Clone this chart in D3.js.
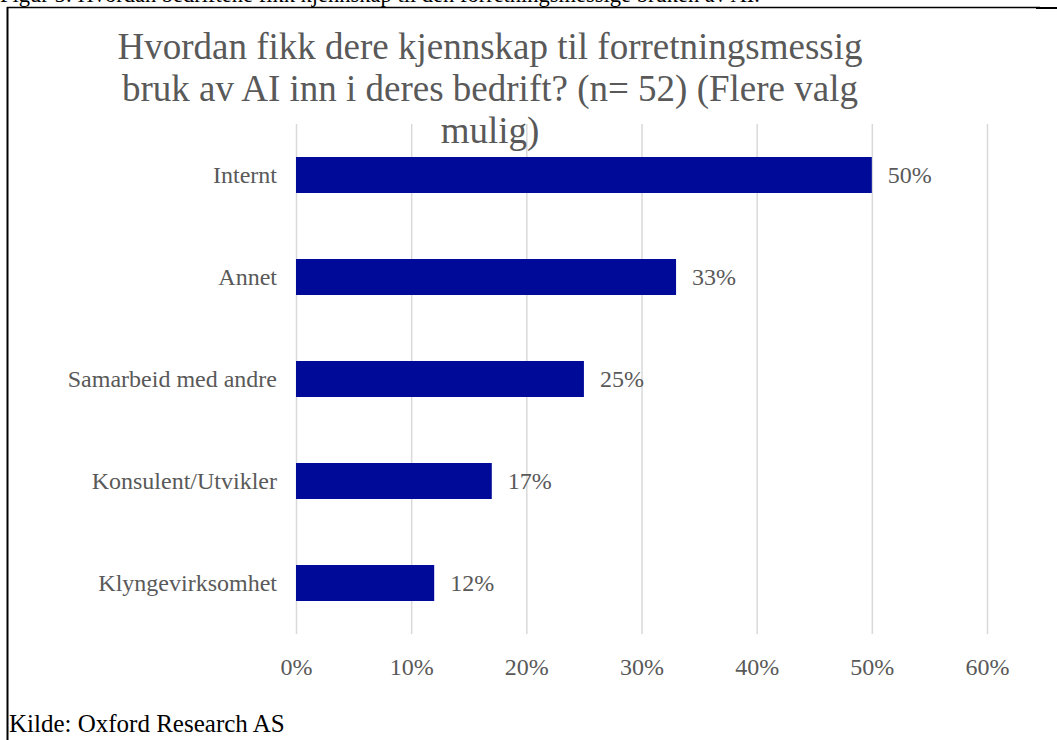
<!DOCTYPE html>
<html>
<head>
<meta charset="utf-8">
<script src="https://cdn.jsdelivr.net/npm/d3@7"></script>
<style>
  body { margin: 0; background: #fff; }
  svg { display: block; }
  svg text { font-family: "Liberation Serif", "Times New Roman", serif; }
</style>
</head>
<body>
<svg id="chart" width="1057" height="740"></svg>
<script>
var categories = ['Internt', 'Annet', 'Samarbeid med andre', 'Konsulent/Utvikler', 'Klyngevirksomhet'];
var values = [0.50, 0.33, 0.25, 0.17, 0.12];
var tickValues = [0, 0.1, 0.2, 0.3, 0.4, 0.5, 0.6];
var titleLines = ['Hvordan fikk dere kjennskap til forretningsmessig', 'bruk av AI inn i deres bedrift? (n= 52) (Flere valg', 'mulig)'];

var serif = '"Liberation Serif", "Times New Roman", serif';
var svg = d3.select('#chart');
var grey = '#595959';
var barColor = '#000A99';

// caption above the frame, mostly cut off at the top
svg.append('text')
  .attr('x', 0)
  .attr('y', 2)
  .style('font-family', serif)
  .style('font-size', '22.5px')
  .style('fill', '#000')
  .text('Figur 5: Hvordan bedriftene fikk kjennskap til den forretningsmessige bruken av AI.');

// frame
svg.append('line')
  .attr('x1', 7).attr('y1', 7.5).attr('x2', 1040).attr('y2', 7.5)
  .style('stroke', '#000').style('stroke-width', 1.5);
svg.append('line')
  .attr('x1', 1036).attr('y1', 8).attr('x2', 1057).attr('y2', 8)
  .style('stroke', '#000').style('stroke-width', 2);
svg.append('line')
  .attr('x1', 7.5).attr('y1', 7).attr('x2', 7.5).attr('y2', 740)
  .style('stroke', '#000').style('stroke-width', 2);

var x = d3.scaleLinear().domain([0, 0.6]).range([296, 987]);
var y = d3.scaleBand().domain(categories).range([124, 634]).paddingInner(0.647).paddingOuter(0.3235);

// gridlines
svg.append('g')
  .selectAll('line')
  .data(tickValues)
  .join('line')
  .attr('x1', d => x(d) + 0.5)
  .attr('x2', d => x(d) + 0.5)
  .attr('y1', 124)
  .attr('y2', 634)
  .style('stroke', '#d9d9d9')
  .style('stroke-width', 1.5);

// bars
svg.append('g')
  .selectAll('rect')
  .data(categories)
  .join('rect')
  .attr('x', x(0))
  .attr('y', d => y(d))
  .attr('width', (d, i) => x(values[i]) - x(0))
  .attr('height', y.bandwidth())
  .style('fill', barColor);

// value labels
svg.append('g')
  .selectAll('text')
  .data(categories)
  .join('text')
  .attr('x', (d, i) => x(values[i]) + 16)
  .attr('y', d => y(d) + y.bandwidth() / 2)
  .attr('dy', '0.35em')
  .style('font-family', serif)
  .style('font-size', '24px')
  .style('fill', grey)
  .text((d, i) => d3.format('.0%')(values[i]));

// category labels
var yAxis = svg.append('g')
  .attr('transform', 'translate(' + x(0) + ',0)')
  .call(d3.axisLeft(y).tickSize(0).tickPadding(19));
yAxis.select('.domain').remove();
yAxis.selectAll('text')
  .style('font-family', serif)
  .style('font-size', '24px')
  .style('fill', grey);

// x axis tick labels
var xAxis = svg.append('g')
  .attr('transform', 'translate(0,634)')
  .call(d3.axisBottom(x).tickValues(tickValues).tickFormat(d3.format('.0%')).tickSize(0).tickPadding(24));
xAxis.select('.domain').remove();
xAxis.selectAll('text')
  .style('font-family', serif)
  .style('font-size', '24px')
  .style('fill', grey);

// title
svg.append('g')
  .selectAll('text')
  .data(titleLines)
  .join('text')
  .attr('x', 490)
  .attr('y', (d, i) => 59 + i * 42)
  .attr('text-anchor', 'middle')
  .style('font-family', serif)
  .style('font-size', '37px')
  .style('fill', grey)
  .text(d => d);

// source
svg.append('text')
  .attr('x', 9)
  .attr('y', 732)
  .style('font-family', serif)
  .style('font-size', '25px')
  .style('fill', '#000')
  .text('Kilde: Oxford Research AS');
</script>
</body>
</html>
